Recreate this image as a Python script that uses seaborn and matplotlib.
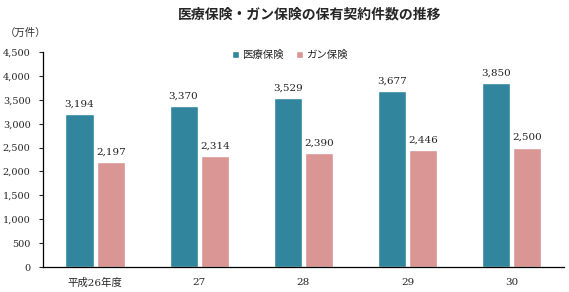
import pandas as pd
import matplotlib.pyplot as plt
import seaborn as sns
from matplotlib.ticker import FuncFormatter, MultipleLocator

# data (unit: 10,000 policies)
years = ['平成26年度', '27', '28', '29', '30']
medical = [3194, 3370, 3529, 3677, 3850]
cancer = [2197, 2314, 2390, 2446, 2500]
series_names = ['医療保険', 'ガン保険']
colors = ['#31859C', '#D99694']

df = pd.DataFrame({
	'year': years * 2,
	'value': medical + cancer,
	'kind': [series_names[0]] * len(years) + [series_names[1]] * len(years),
})

sns.set_style('white')
serif = ['DejaVu Serif', 'Noto Sans CJK JP']
plt.rcParams['font.family'] = serif

fig = plt.figure(figsize=(5.69, 2.92), dpi=100)
ax = fig.add_axes([0.0756, 0.0856, 0.915, 0.736])

sns.barplot(data=df, x='year', y='value', hue='kind', palette=colors,
			width=0.6, gap=0.1, ax=ax, saturation=1, legend=True)

for cont in ax.containers:
	ax.bar_label(cont, labels=[f'{v:,.0f}' for v in cont.datavalues],
				 padding=4, fontsize=7.5, color='#222222')

ax.set_ylim(0, 4500)
ax.set_xlim(-0.5, 4.5)
ax.yaxis.set_major_locator(MultipleLocator(500))
ax.yaxis.set_major_formatter(FuncFormatter(lambda v, p: f'{v:,.0f}'))
ax.tick_params(axis='y', direction='out', length=3, width=0.8, labelsize=7,
			   left=True, pad=6)
ax.tick_params(axis='x', length=0, labelsize=7.5, pad=8)
ax.set_xlabel('')
ax.set_ylabel('')
for s in ['top', 'right']:
	ax.spines[s].set_visible(False)
for s in ['left', 'bottom']:
	ax.spines[s].set_color('black')
	ax.spines[s].set_linewidth(0.9)

ax.legend(loc='center', bbox_to_anchor=(0.474, 0.985), ncol=2, frameon=False,
		  handlelength=0.7, handleheight=0.7, handletextpad=0.3,
		  columnspacing=1.2, prop={'family': ['Noto Sans CJK JP'], 'size': 7.5})

fig.text(0.545, 0.952, '医療保険・ガン保険の保有契約件数の推移', ha='center',
		 va='center', fontsize=10, fontweight='bold', family=['Noto Sans CJK JP'])
fig.text(0.008, 0.886, '（万件）', ha='left', va='center', fontsize=7.5,
		 family=['Noto Sans CJK JP'], color='#333333')

fig.savefig('out.png', dpi=100)
